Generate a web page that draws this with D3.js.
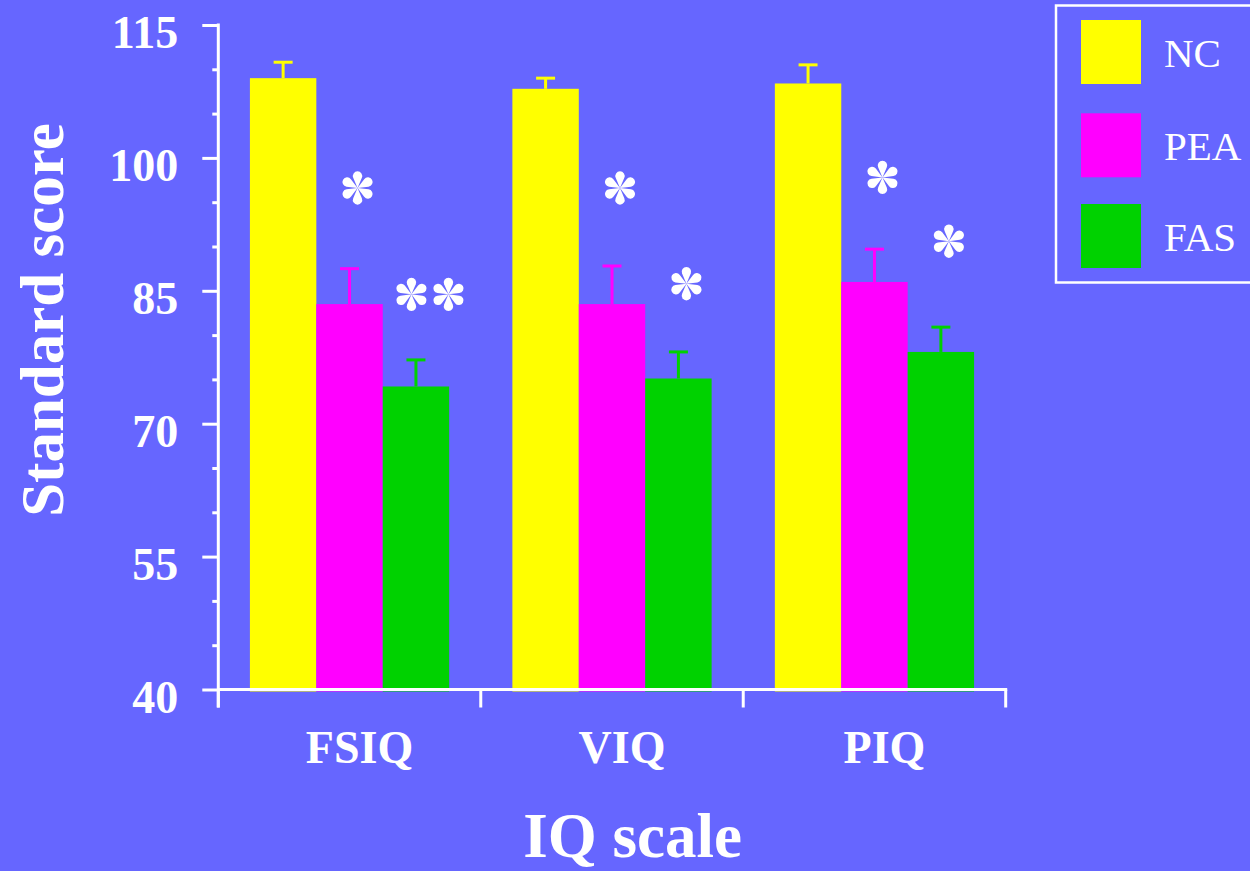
<!DOCTYPE html>
<html>
<head>
<meta charset="utf-8">
<script src="https://cdn.jsdelivr.net/npm/d3@7"></script>
<style>
  html, body { margin: 0; padding: 0; background: #6666FF; }
  svg { display: block; }
  text { font-family: "Liberation Serif", "Times New Roman", serif; fill: #ffffff; }
</style>
</head>
<body>
<svg id="chart" width="1250" height="871"></svg>
<script>
// IQ scale categories and group series
const categories = ["FSIQ", "VIQ", "PIQ"];
const seriesNames = ["NC", "PEA", "FAS"];

// Mean standard scores per category
const ncMeans  = [109.0, 107.8, 108.4];
const peaMeans = [83.5, 83.5, 86.0];
const fasMeans = [74.2, 75.1, 78.1];

// Standard errors (upper error bar)
const ncErr  = [1.8, 1.2, 2.1];
const peaErr = [4.0, 4.3, 3.7];
const fasErr = [3.0, 3.0, 2.8];

// Significance markers: number of asterisks and the score level they sit at
const peaStars = [1, 1, 1];
const fasStars = [2, 1, 1];
const peaStarLevel = [96.6, 96.6, 97.8];
const fasStarLevel = [84.6, 85.8, 90.6];

// Axis ticks
const yMajorTicks = [40, 55, 70, 85, 100, 115];
const yMinorTicks = [45, 50, 60, 65, 75, 80, 90, 95, 105, 110];

const colors = { NC: "#FFFF00", PEA: "#FF00FF", FAS: "#00D200" };

const rows = [
  { name: "NC",  means: ncMeans,  errs: ncErr },
  { name: "PEA", means: peaMeans, errs: peaErr },
  { name: "FAS", means: fasMeans, errs: fasErr }
];
const data = [];
rows.forEach(r => categories.forEach((c, i) => data.push({ cat: c, series: r.name, value: r.means[i], err: r.errs[i] })));

const sigMarks = [];
categories.forEach((c, i) => {
  sigMarks.push({ cat: c, series: "PEA", count: peaStars[i], level: peaStarLevel[i] });
  sigMarks.push({ cat: c, series: "FAS", count: fasStars[i], level: fasStarLevel[i] });
});

const svg = d3.select("#chart");
svg.append("rect").attr("width", 1250).attr("height", 871).attr("fill", "#6666FF");

const x0 = d3.scaleBand().domain(categories).range([218.3, 1005.7]).paddingInner(0).paddingOuter(0);
const x1 = d3.scaleBand().domain(seriesNames).range([0, x0.bandwidth()]).paddingInner(0).paddingOuter(0.476);
const y = d3.scaleLinear().domain([40, 115]).range([689.5, 25]);

// Bars
svg.append("g").selectAll("rect.bar").data(data).join("rect")
  .attr("class", "bar")
  .attr("x", d => x0(d.cat) + x1(d.series))
  .attr("y", d => y(d.value))
  .attr("width", x1.bandwidth())
  .attr("height", d => y(40) - y(d.value) + 2)
  .attr("fill", d => colors[d.series]);

// Error bars (upper only)
const capW = 19;
const eb = svg.append("g").selectAll("g.err").data(data).join("g").attr("class", "err")
  .attr("stroke", d => colors[d.series]).attr("stroke-width", 3);
eb.append("line")
  .attr("x1", d => x0(d.cat) + x1(d.series) + x1.bandwidth() / 2)
  .attr("x2", d => x0(d.cat) + x1(d.series) + x1.bandwidth() / 2)
  .attr("y1", d => y(d.value))
  .attr("y2", d => y(d.value + d.err));
eb.append("line")
  .attr("x1", d => x0(d.cat) + x1(d.series) + x1.bandwidth() / 2 - capW / 2)
  .attr("x2", d => x0(d.cat) + x1(d.series) + x1.bandwidth() / 2 + capW / 2)
  .attr("y1", d => y(d.value + d.err))
  .attr("y2", d => y(d.value + d.err));

// Teardrop-spoked asterisk
function asteriskPath(d, r) {
  const a = Math.asin(r / d);
  const L = Math.sqrt(d * d - r * r);
  const px = L * Math.sin(a), py = -L * Math.cos(a);
  return `M0,0 L${-px},${py} A${r},${r} 0 1 1 ${px},${py} Z`;
}
const petal = asteriskPath(12, 4.7);
function drawStar(g, cx, cy) {
  const s = g.append("g").attr("transform", `translate(${cx},${cy})`);
  for (let k = 0; k < 6; k++) {
    s.append("path").attr("d", petal).attr("fill", "#ffffff").attr("transform", `rotate(${k * 60})`);
  }
}
const starG = svg.append("g");
sigMarks.forEach(m => {
  const cx = x0(m.cat) + x1(m.series) + x1.bandwidth() / 2;
  const cy = y(m.level);
  if (m.count === 1) {
    drawStar(starG, cx + 8, cy);
  } else {
    const gap = 37;
    for (let i = 0; i < m.count; i++) {
      drawStar(starG, cx + 14 + (i - (m.count - 1) / 2) * gap, cy);
    }
  }
});

// Y axis
const yAxisG = svg.append("g").attr("transform", "translate(218.3,0)");
yAxisG.call(d3.axisLeft(y).tickValues(yMinorTicks).tickSize(6).tickFormat(""))
  .call(g => g.select(".domain").remove())
  .call(g => g.selectAll("line").attr("stroke", "#fff").attr("stroke-width", 3));
const yMajorG = svg.append("g").attr("transform", "translate(218.3,0)");
yMajorG.call(d3.axisLeft(y).tickValues(yMajorTicks).tickSize(16).tickPadding(24).tickFormat(d3.format("d")))
  .call(g => g.select(".domain").remove())
  .call(g => g.selectAll("line").attr("stroke", "#fff").attr("stroke-width", 3))
  .call(g => g.selectAll("text")
    .attr("fill", "#fff").attr("font-size", 46).attr("font-weight", "bold")
    .attr("font-family", "'Liberation Serif', 'Times New Roman', serif")
    .attr("dy", "0.49em"));
svg.append("line")
  .attr("x1", 218.3).attr("x2", 218.3)
  .attr("y1", y(115) - 1.5).attr("y2", y(40) + 18)
  .attr("stroke", "#fff").attr("stroke-width", 3);

// X axis
const xAxisG = svg.append("g");
xAxisG.append("line")
  .attr("x1", x0.range()[0]).attr("x2", x0.range()[1] + 1.5)
  .attr("y1", y(40)).attr("y2", y(40))
  .attr("stroke", "#fff").attr("stroke-width", 3);
const boundaries = categories.map(c => x0(c)).concat([x0(categories[categories.length - 1]) + x0.bandwidth()]);
xAxisG.selectAll("line.tick").data(boundaries).join("line")
  .attr("class", "tick")
  .attr("x1", d => d).attr("x2", d => d)
  .attr("y1", y(40)).attr("y2", y(40) + 18)
  .attr("stroke", "#fff").attr("stroke-width", 3);
xAxisG.selectAll("text.cat").data(categories).join("text")
  .attr("class", "cat")
  .attr("x", d => x0(d) + x0.bandwidth() / 2 + 10)
  .attr("y", 762.7)
  .attr("text-anchor", "middle")
  .attr("font-size", 46).attr("font-weight", "bold")
  .text(d => d);

// Axis titles
svg.append("text")
  .attr("transform", "translate(63,320) rotate(-90)")
  .attr("text-anchor", "middle")
  .attr("font-size", 61).attr("font-weight", "bold")
  .text("Standard score");
svg.append("text")
  .attr("x", 632.5).attr("y", 857)
  .attr("text-anchor", "middle")
  .attr("font-size", 63).attr("font-weight", "bold")
  .text("IQ scale");

// Legend
const legend = svg.append("g");
legend.append("rect")
  .attr("x", 1056).attr("y", 5.5).attr("width", 200).attr("height", 277)
  .attr("fill", "none").attr("stroke", "#fff").attr("stroke-width", 2.5);
const legendTop = [20, 113.3, 204];
const li = legend.selectAll("g.item").data(seriesNames).join("g").attr("class", "item");
li.append("rect")
  .attr("x", 1081).attr("y", (d, i) => legendTop[i])
  .attr("width", 60).attr("height", 64)
  .attr("fill", d => colors[d]);
li.append("text")
  .attr("x", 1164).attr("y", (d, i) => legendTop[i] + 46.5)
  .attr("font-size", 41)
  .text(d => d);
</script>
</body>
</html>
